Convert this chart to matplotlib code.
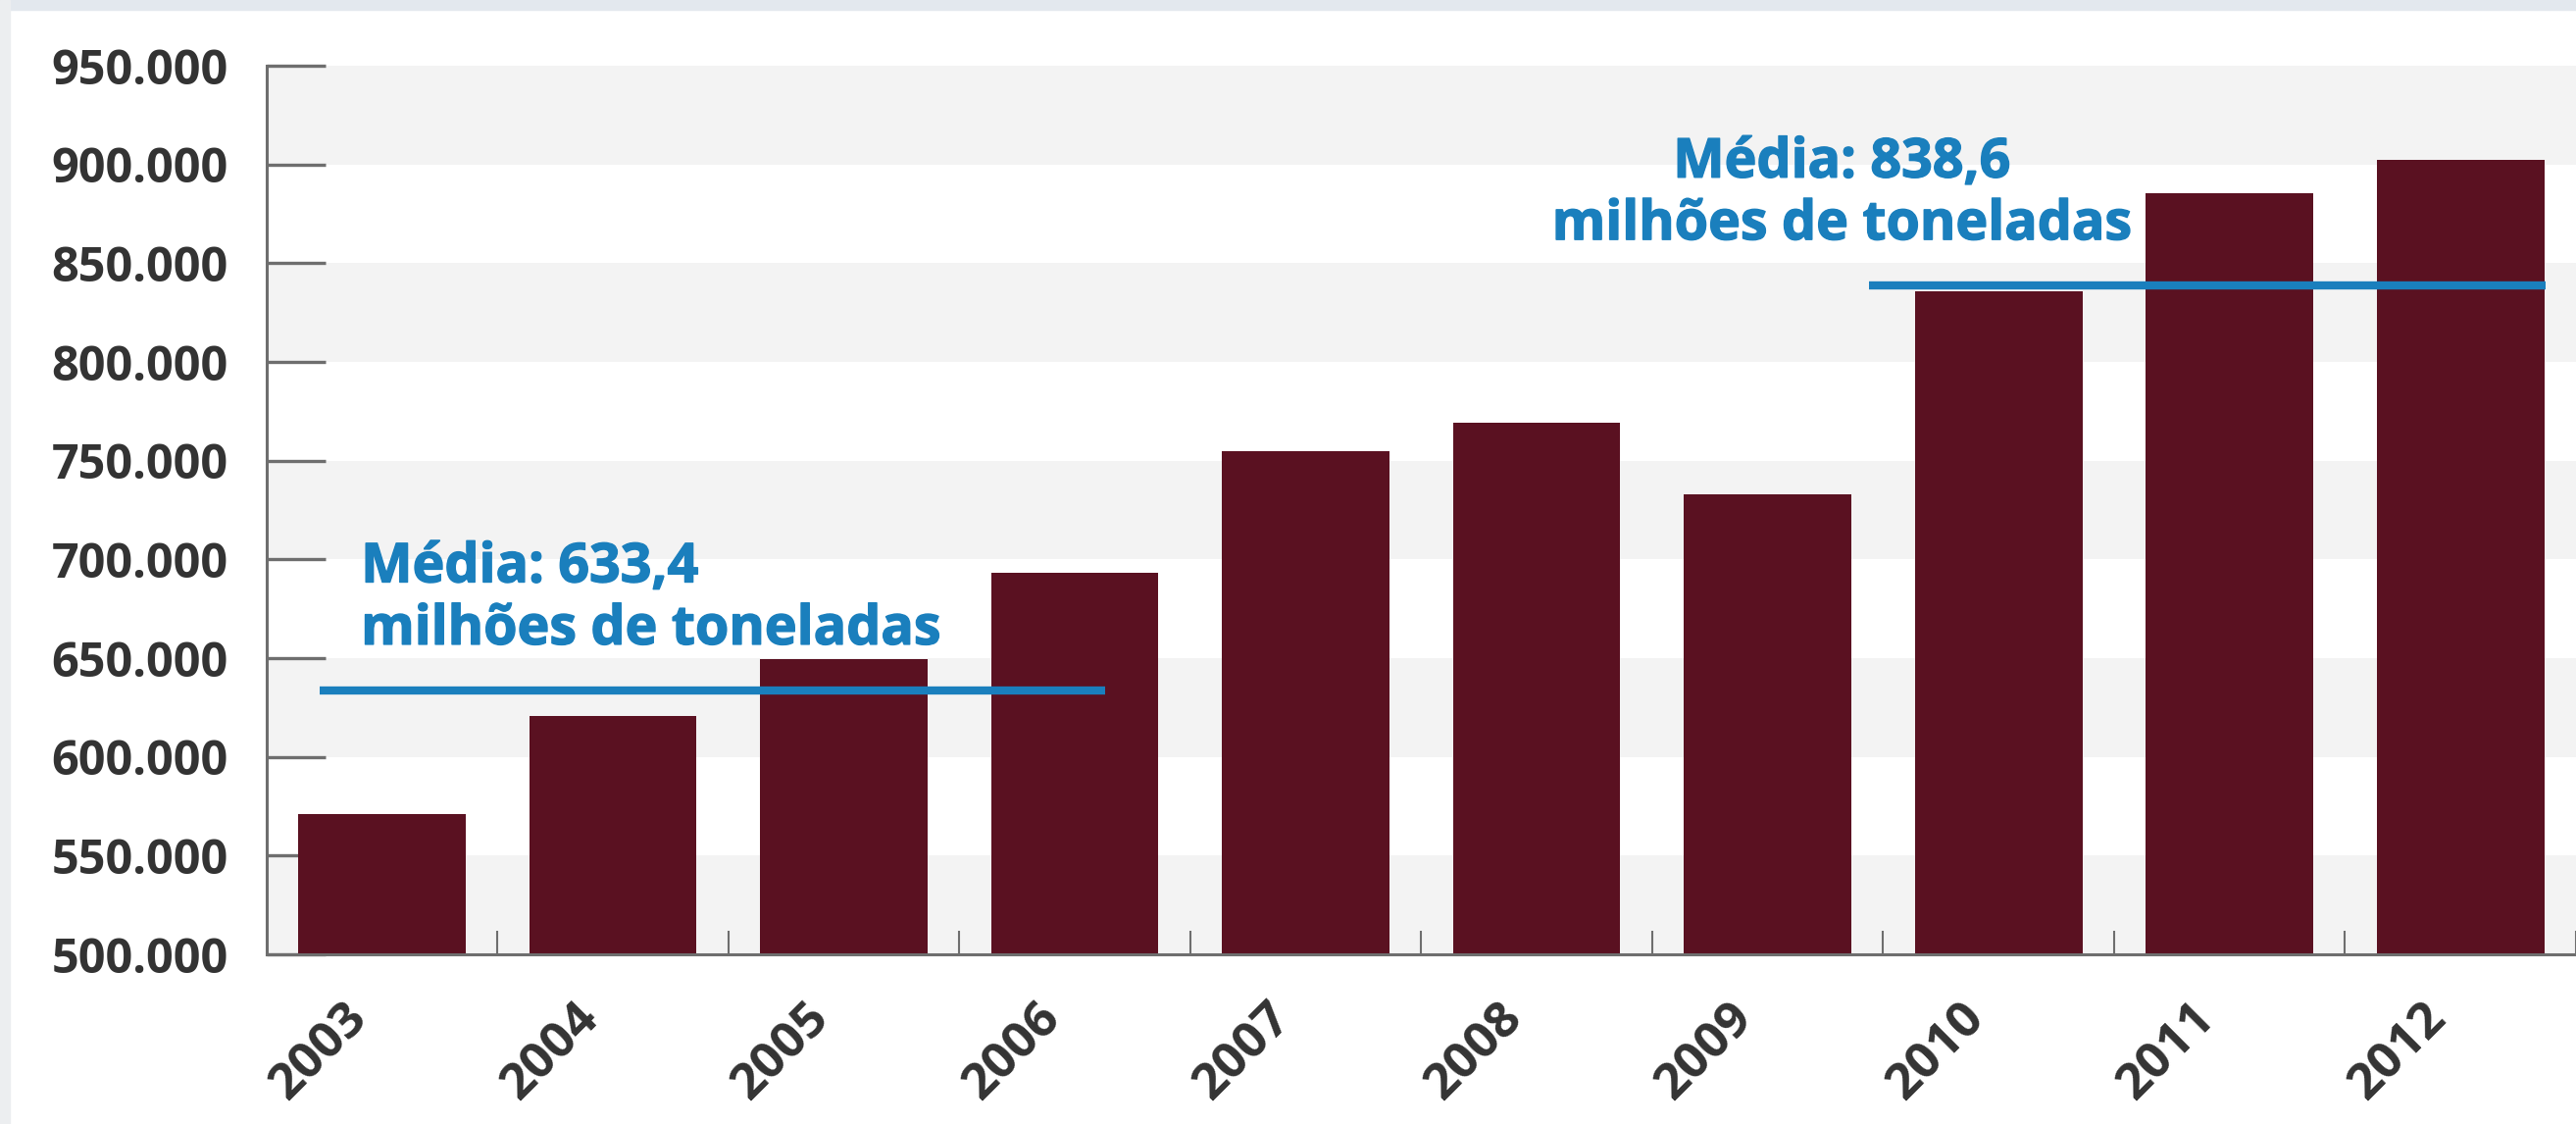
import matplotlib.pyplot as plt
from matplotlib.patches import Rectangle
from matplotlib.ticker import FuncFormatter, FixedLocator
import matplotlib.transforms as mtransforms
import matplotlib.patheffects as pe

plt.rcParams['font.family'] = ['Open Sans', 'DejaVu Sans']
plt.rcParams['font.weight'] = 'bold'

# dados (mil toneladas)
anos = ['2003', '2004', '2005', '2006', '2007', '2008', '2009', '2010', '2011', '2012']
carga = [570800, 620800, 649500, 693300, 755000, 769000, 733000, 836000, 885500, 902500]
media_1 = 633400
media_2 = 838600
texto_1 = 'Média: 633,4\nmilhões de toneladas'
texto_2 = 'Média: 838,6\nmilhões de toneladas'

vinho = '#5a1121'
azul = '#1a7fbd'
cinza = '#6e6e6e'

W, H = 2627, 1146
fig = plt.figure(figsize=(W / 100, H / 100), dpi=100)
fig.patch.set_facecolor('white')
fig.patches.append(Rectangle((0, 1 - 10 / H), 1, 10 / H, transform=fig.transFigure,
                             color='#e3e8ee', zorder=0))
fig.patches.append(Rectangle((0, 0), 10 / W, 1, transform=fig.transFigure,
                             color='#eceef0', zorder=0))

ax = fig.add_axes([271.6 / W, 173 / H, (W - 271.6) / W, 906 / H])

x = list(range(len(anos)))
ax.set_xlim(-0.5, len(anos) - 0.5)
ax.set_ylim(500000, 950000)

# faixas alternadas
for y0 in range(500000, 950000, 100000):
    ax.axhspan(y0, y0 + 50000, color='#f3f3f3', zorder=0, lw=0)

ax.bar(x, carga, width=0.725, color=vinho, zorder=2)

# linhas de média
ax.hlines(media_1, -0.27, 3.13, color=azul, lw=6, zorder=3)
ax.hlines(media_2, 6.44, 9.37, color=azul, lw=6, zorder=3)
engrossa = [pe.withStroke(linewidth=1.0, foreground=azul)]
ax.text(-0.09, 657000, texto_1, color=azul, fontsize=40, fontweight='bold',
        ha='left', va='baseline', linespacing=1.2, zorder=4, path_effects=engrossa)
ax.text(6.32, 862000, texto_2, color=azul, fontsize=40, fontweight='bold',
        ha='center', va='baseline', linespacing=1.2, multialignment='center', zorder=4,
        path_effects=engrossa)

# eixos
for s in ['top', 'right']:
    ax.spines[s].set_visible(False)
for s in ['left', 'bottom']:
    ax.spines[s].set_color(cinza)
    ax.spines[s].set_linewidth(2.2)

ax.set_yticks(range(500000, 950001, 50000))
ax.yaxis.set_major_formatter(FuncFormatter(lambda v, p: f'{int(v):,}'.replace(',', '.')))
ax.tick_params(axis='y', direction='in', length=43, width=2.4, color=cinza,
               pad=28, labelsize=35, labelcolor='#333333')

ax.set_xticks(x)
ax.set_xticklabels(anos, rotation=45, ha='right', va='top', rotation_mode='anchor',
                   fontsize=37, color='#333333')
ax.tick_params(axis='x', which='major', length=0, pad=29)
ax.xaxis.set_minor_locator(FixedLocator([i + 0.5 for i in x]))
ax.tick_params(axis='x', which='minor', direction='in', length=17, width=1.5, color=cinza)
shift = mtransforms.ScaledTranslation(-40 / 100, 0, fig.dpi_scale_trans)
for lab in ax.get_xticklabels():
    lab.set_transform(lab.get_transform() + shift)

fig.savefig('out.png', dpi=100)
